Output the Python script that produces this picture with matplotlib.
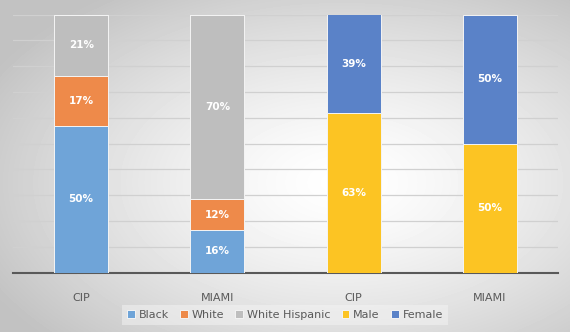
import numpy as np
import matplotlib.pyplot as plt

categories = ['CIP', 'MIAMI', 'CIP', 'MIAMI']
black = [50, 16, 0, 0]
white = [17, 12, 0, 0]
white_hispanic = [21, 70, 0, 0]
male = [0, 0, 63, 50]
female = [0, 0, 39, 50]

series = [('Black', black, '#6FA4D8'),
          ('White', white, '#EE8A4A'),
          ('White Hispanic', white_hispanic, '#BEBEBE'),
          ('Male', male, '#FCC423'),
          ('Female', female, '#5A82C8')]

fig = plt.figure(figsize=(5.7, 3.32), dpi=100)

# radial grey background
bg = fig.add_axes([0, 0, 1, 1], zorder=-10)
yy, xx = np.mgrid[0:1:332j, 0:1:570j]
r = np.sqrt(((xx - 0.6) / 0.7) ** 2 + ((yy - 0.55) / 0.7) ** 2)
shade = np.clip(1 - 0.24 * r ** 1.4, 0.76, 1)
bg.imshow(shade, cmap='gray', vmin=0, vmax=1, aspect='auto', extent=[0, 1, 0, 1])
bg.axis('off')

ax = fig.add_axes([13 / 570, 1 - 272.5 / 332, 545 / 570, 258 / 332])
ax.patch.set_alpha(0)

totals = np.array(black) + np.array(white) + np.array(white_hispanic) + np.array(male) + np.array(female)
x = np.arange(len(categories))
bottom = np.zeros(len(categories))
for name, vals, col in series:
    vals = np.array(vals, dtype=float)
    share = vals / totals * 100
    ax.bar(x, share, 0.396, bottom=bottom, color=col,
           edgecolor='#f4f4f4', linewidth=0.7, label=name, zorder=3)
    for xi, v, s, b in zip(x, vals, share, bottom):
        if v > 0:
            ax.text(xi, b + s / 2, f'{int(v)}%', ha='center', va='center',
                    color='white', fontsize=7.5, fontweight='bold', zorder=4)
    bottom += share

ax.set_xlim(-0.5, 3.5)
ax.set_ylim(0, 100)
ax.set_yticks(np.arange(0, 101, 10))
ax.yaxis.grid(True, color='#d0d0d0', linewidth=0.9, zorder=0)
ax.tick_params(axis='y', left=False, labelleft=False)
ax.tick_params(axis='x', bottom=False, labelsize=8, labelcolor='#595959', pad=11)
ax.set_xticks(x)
ax.set_xticklabels(categories)
for s in ['top', 'right', 'left']:
    ax.spines[s].set_visible(False)
ax.spines['bottom'].set_color('#595959')
ax.spines['bottom'].set_linewidth(1.5)

leg = ax.legend(loc='center', bbox_to_anchor=(272 / 545, -0.165), ncol=5,
                fontsize=8, frameon=True, handlelength=0.7, handleheight=0.7,
                handletextpad=0.35, columnspacing=1.0, borderpad=0.45,
                borderaxespad=0)
leg.get_frame().set_facecolor('#f4f4f4')
leg.get_frame().set_alpha(0.5)
leg.get_frame().set_edgecolor('none')
leg.get_frame().set_boxstyle('square', pad=0)
for t in leg.get_texts():
    t.set_color('#595959')

fig.savefig('out.png', dpi=100)
